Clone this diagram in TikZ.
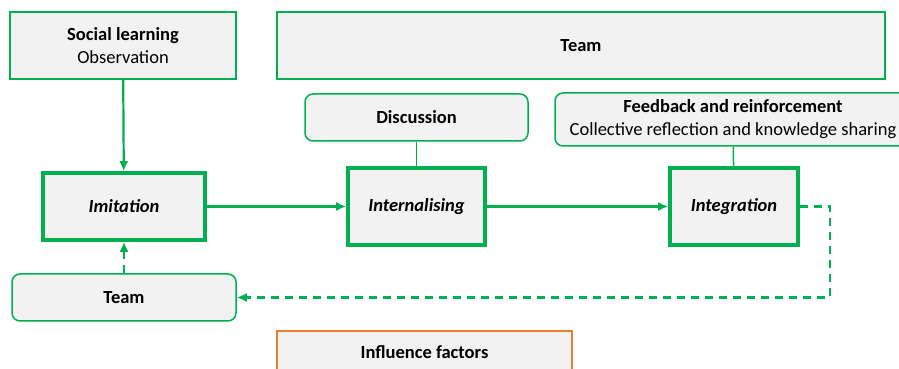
\documentclass[tikz,border=0pt]{standalone}
\usepackage{fontspec}
\setmainfont{Carlito}
\usepackage{tikz, xcolor}
\usetikzlibrary{arrows.meta}

\definecolor{boxgreen}{HTML}{00B050}
\definecolor{boxorange}{HTML}{ED7D31}
\definecolor{boxgray}{HTML}{F2F2F2}

\tikzset{
  thinbox/.style={draw=boxgreen, line width=1.5pt, fill=boxgray, inner sep=0pt,
    align=center, font=\fontsize{18.5}{23}\selectfont},
  softbox/.style={thinbox, rounded corners=8pt},
  stagebox/.style={draw=boxgreen, line width=3.6pt, fill=boxgray, inner sep=0pt,
    font=\fontsize{18.5}{22}\selectfont\bfseries\itshape},
  flow/.style={draw=boxgreen, line width=2.2pt, -{Latex[length=10pt,width=9pt]}},
  link/.style={draw=boxgreen, line width=1.5pt},
  back/.style={flow, dash pattern=on 8pt off 6pt}
}

\begin{document}
\begin{tikzpicture}[x=1pt, y=1pt]
  \useasboundingbox (0, 0) rectangle (899, 369);

  % top row
  \node [thinbox, minimum width=226, minimum height=67] (social) at (123, 323.5)
    {\textbf{Social learning}\\Observation};
  \node [thinbox, minimum width=608, minimum height=67] (teamtop) at (581, 323.5)
    {\textbf{Team}};

  % supporting boxes
  \node [softbox, minimum width=223, minimum height=47] (discuss) at (416.5, 251.5)
    {\textbf{Discussion}};
  \node [softbox, minimum width=356, minimum height=53] (feedback) at (733, 249.5)
    {\textbf{Feedback and reinforcement}\\Collective reflection and knowledge sharing};

  % the three stages
  \node [stagebox, minimum width=162, minimum height=67] (imitation) at (124, 162.5) {Imitation};
  \node [stagebox, minimum width=137, minimum height=77] (internal) at (416.5, 162.5) {Internalising};
  \node [stagebox, minimum width=128, minimum height=77] (integ) at (734, 162.5) {Integration};

  % bottom row
  \node [softbox, minimum width=224, minimum height=47] (teambot) at (124, 71.5)
    {\textbf{Team}};
  \node [thinbox, draw=boxorange, minimum width=295, minimum height=42] (influence) at (424.5, 17)
    {\textbf{Influence factors}};

  \draw [flow] (social) to (imitation);
  \draw [flow] (imitation) to (internal);
  \draw [flow] (internal) to (integ);
  \draw [link] (discuss) to (internal);
  \draw [link] (feedback) to (integ);

  \draw [back] (integ.east) -- ++(30, 0) |- (teambot.east);
  \draw [back] (teambot) to (imitation);

\end{tikzpicture}
\end{document}
